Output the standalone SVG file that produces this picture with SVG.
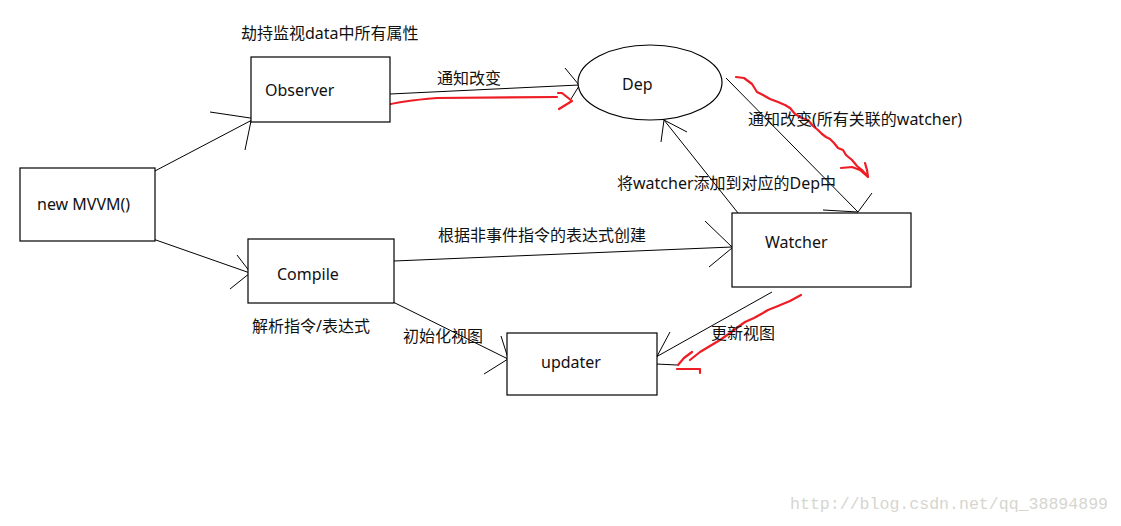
<svg xmlns="http://www.w3.org/2000/svg" width="1121" height="526" viewBox="0 0 1121 526">
<style>
.box{fill:#fff;stroke:#000;stroke-width:1.2}
.ln{fill:none;stroke:#000;stroke-width:1}
.red{fill:none;stroke:#ee1c24;stroke-width:2.2;stroke-linecap:round;stroke-linejoin:round}
.t{font-family:"Noto Sans","Noto Sans CJK SC",sans-serif;font-size:16px;fill:#111}
.wm{font-family:"Liberation Mono","DejaVu Sans Mono",monospace;font-size:16px;fill:#d6d6cf}
</style>
<rect width="1121" height="526" fill="#fff"/>
<g id="connectors">
<path class="ln" d="M153 172 L252 120 M210 112 L257 119 M251 121 L245 150"/>
<path class="ln" d="M153 239 L250 273 M237 255 L250 272 M230 289 L250 273"/>
<path class="ln" d="M390 94 L579 85 M565 68 L579 85 M571 99 L579 86"/>
<path class="ln" d="M726 78 L858 212 M872 193 L858 212 M823 210 L858 212"/>
<path class="ln" d="M738 213 L664 120 M661 142 L664 120 L687 132"/>
<path class="ln" d="M394 261 L732 247 M705 221 L732 247 M709 267 L732 248"/>
<path class="ln" d="M393 302 L508 359 M501 336 L508 358 M484 374 L508 359"/>
<path class="ln" d="M772 292 L656 357 M670 332 L654 362 M656 364 L677 365"/>
<path class="red" d="M383 106 Q400 101 437 98 L557 97 M558 93 L562 93 L572 101 L559 109"/>
<path class="red" d="M736 77 L744 78 L752 84 L757 92 L763 95 L770 99 L778 102 L785 105 L790 108 L795 114 L802 118 L808 120 L813 126 L818 130 L822 134 L826 137 L830 139 L834 143 L838 148 L843 150 L846 155 L852 160 L857 166 L862 170 L868 177 M841 168 L852 167 L860 170 L868 177 L867 170 L865 163"/>
<path class="red" d="M801 295 L790 301 L778 306 L768 310 L763 313 L754 318 L745 322 L738 327 L730 333 L720 340 L710 346 L700 352 L690 360 M692 352 L684 358 L678 365 M677 369 L700 369 L700 373"/>
</g>
<g id="observer"><rect class="box" x="251" y="57" width="139" height="65"/><text class="t" x="265" y="96">Observer</text></g>
<g id="dep"><ellipse class="box" cx="650" cy="82.5" rx="72" ry="37.5"/><text class="t" x="622" y="90">Dep</text></g>
<g id="mvvm"><rect class="box" x="20" y="168" width="135" height="73"/><text class="t" x="37" y="210">new MVVM()</text></g>
<g id="compile"><rect class="box" x="248" y="239" width="146" height="64"/><text class="t" x="277" y="280">Compile</text></g>
<g id="watcher"><rect class="box" x="732" y="213" width="179" height="74"/><text class="t" x="765" y="248">Watcher</text></g>
<g id="updater"><rect class="box" x="507" y="333" width="150" height="62"/><text class="t" x="541" y="368">updater</text></g>
<g id="labels">
<text class="t" x="241" y="39">劫持监视data中所有属性</text>
<text class="t" x="437" y="84">通知改变</text>
<text class="t" x="748" y="125">通知改变(所有关联的watcher)</text>
<text class="t" x="617" y="189">将watcher添加到对应的Dep中</text>
<text class="t" x="438" y="241">根据非事件指令的表达式创建</text>
<text class="t" x="252" y="332">解析指令/表达式</text>
<text class="t" x="403" y="342">初始化视图</text>
<text class="t" x="711" y="339">更新视图</text>
</g>
<text class="wm" x="790" y="509" textLength="318" lengthAdjust="spacingAndGlyphs">http://blog.csdn.net/qq_38894899</text>
</svg>
